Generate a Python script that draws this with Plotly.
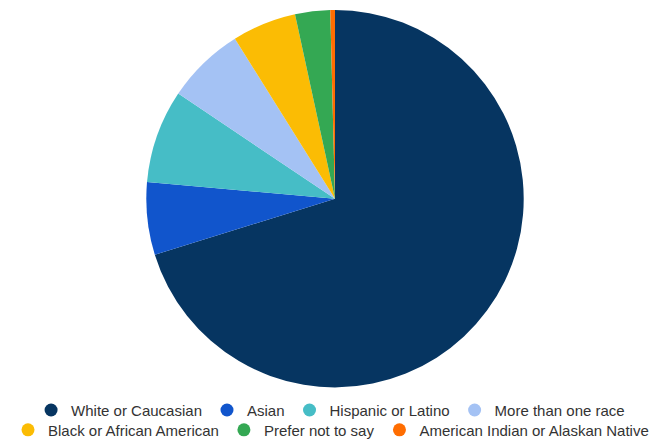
import plotly.graph_objects as go

categories = ["White or Caucasian", "Asian", "Hispanic or Latino", "More than one race",
              "Black or African American", "Prefer not to say", "American Indian or Alaskan Native"]
values = [70.2, 6.2, 8.0, 6.7, 5.5, 3.0, 0.4]
colors = ["#063561", "#1155cc", "#46bdc6", "#a4c2f4", "#fbbc04", "#34a853", "#ff6d01"]

W, H = 657, 439
cx, cy, r = 327, 192, 190

fig = go.Figure()
fig.add_trace(go.Pie(
    labels=categories, values=values, sort=False, direction="clockwise", rotation=0,
    marker=dict(colors=colors, line=dict(width=0)), textinfo="none", hoverinfo="label+percent",
    showlegend=False,
    domain=dict(x=[(cx - r) / W, (cx + r) / W], y=[(H - cy - r) / H, (H - cy + r) / H]),
))
for i, (cat, col) in enumerate(zip(categories, colors)):
    fig.add_trace(go.Scatter(
        x=[None], y=[None], mode="markers", name=cat,
        marker=dict(color=col, size=13, symbol="circle"),
        legend="legend" if i < 4 else "legend2", showlegend=True,
    ))

legend_common = dict(orientation="h", xanchor="center", x=0.491, yanchor="middle",
                     font=dict(family="Liberation Sans, Arial, sans-serif", size=15, color="#333333"),
                     bgcolor="rgba(0,0,0,0)", itemsizing="trace", traceorder="normal")
fig.update_layout(
    width=W, height=H, margin=dict(l=0, r=0, t=0, b=0),
    paper_bgcolor="white", plot_bgcolor="white",
    xaxis=dict(visible=False), yaxis=dict(visible=False),
    legend=dict(y=(H - 405) / H, **legend_common),
    legend2=dict(y=(H - 425) / H, **legend_common),
)
fig.write_html("out.html")
